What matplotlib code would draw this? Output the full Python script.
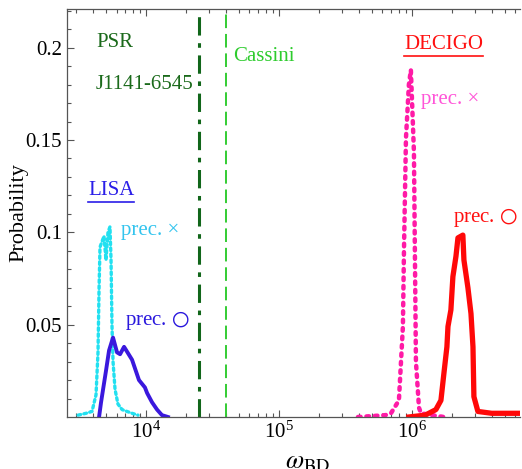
"""Posterior of the Brans-Dicke parameter for LISA and DECIGO."""

import matplotlib

matplotlib.use("Agg")
import matplotlib.pyplot as plt
import numpy as np
from matplotlib.lines import Line2D
from matplotlib.ticker import FixedLocator, LogLocator, NullFormatter

plt.rcParams["font.family"] = ["Liberation Serif", "DejaVu Sans"]
plt.rcParams["mathtext.fontset"] = "stix"

# LISA, precession x (cyan dotted)
lisa_x_log = [3.489, 3.549, 3.594, 3.624, 3.639, 3.647, 3.654, 3.669, 3.684, 3.699,
              3.714, 3.729, 3.737, 3.744, 3.752, 3.767, 3.789, 3.82, 3.857, 3.895, 3.94]
lisa_x_prob = [0.001, 0.002, 0.003, 0.012, 0.035, 0.070, 0.092, 0.095, 0.098, 0.085,
               0.100, 0.103, 0.085, 0.050, 0.030, 0.015, 0.007, 0.004, 0.003, 0.002, 0.001]

# LISA, precession o (blue solid)
lisa_o_log = [3.647, 3.662, 3.699, 3.722, 3.752, 3.782, 3.805, 3.835, 3.895, 3.947,
              3.992, 4.008, 4.045, 4.083, 4.12, 4.165]
lisa_o_prob = [0.0, 0.008, 0.025, 0.036, 0.043, 0.035, 0.034, 0.038, 0.031, 0.020,
               0.016, 0.013, 0.008, 0.004, 0.001, 0.0]

# DECIGO, precession x (magenta dotted)
decigo_x_log = [5.594, 5.70, 5.80, 5.842, 5.902, 5.932, 5.94, 5.955, 5.977, 5.992,
                6.015, 6.03, 6.053, 6.068, 6.15, 6.24]
decigo_x_prob = [0.0, 0.0005, 0.001, 0.002, 0.009, 0.049, 0.09, 0.151, 0.180, 0.188,
                 0.1435, 0.03, 0.005, 0.002, 0.001, 0.0]

# DECIGO, precession o (red solid)
decigo_o_log = [5.977, 6.10, 6.18, 6.218, 6.241, 6.263, 6.271, 6.293, 6.308, 6.331,
                6.346, 6.383, 6.391, 6.421, 6.444, 6.459, 6.466, 6.496, 6.60, 6.70, 6.797]
decigo_o_prob = [0.0, 0.001, 0.004, 0.009, 0.024, 0.038, 0.049, 0.058, 0.076, 0.087,
                 0.097, 0.0985, 0.085, 0.070, 0.056, 0.038, 0.011, 0.003, 0.002, 0.002, 0.002]

# existing bounds
omega_psr = 25000
omega_cassini = 40000


def underline(fig, text, color):
    fig.canvas.draw()
    bb = text.get_window_extent().transformed(fig.transFigure.inverted())
    fig.add_artist(Line2D([bb.x0, bb.x1], [bb.y0 - 0.004, bb.y0 - 0.004],
                          transform=fig.transFigure, color=color, lw=1.2))


fig = plt.figure(figsize=(5.22, 4.69), dpi=100)
ax = fig.add_axes([0.1284, 0.1109, 0.8676, 0.8701])

ax.plot(10 ** np.array(lisa_x_log), lisa_x_prob, color="#22e0f0", lw=2.4,
        ls=(0, (0.8, 1.0)), dash_capstyle="round")
ax.plot(10 ** np.array(lisa_o_log), lisa_o_prob, color="#3a18dd", lw=2.8)
ax.plot(10 ** np.array(decigo_x_log), decigo_x_prob, color="#ff1aa6", lw=3.2,
        ls=(0, (0.6, 1.3)), dash_capstyle="round")
ax.plot(10 ** np.array(decigo_o_log), decigo_o_prob, color="#ff0808", lw=3.8)

ax.axvline(omega_psr, ymax=0.985, color="#11661a", lw=2.2, ls=(0, (6, 2.5, 1.5, 2.5)))
ax.axvline(omega_cassini, ymax=0.99, color="#33cc33", lw=1.4, ls=(0, (7, 3)))

ax.set_xscale("log")
ax.set_xlim(10 ** 3.406, 10 ** 6.812)
ax.set_ylim(0, 0.221)

ax.xaxis.set_major_locator(FixedLocator([1e4, 1e5, 1e6]))
ax.xaxis.set_minor_locator(LogLocator(base=10, subs=np.arange(2, 10)))
ax.xaxis.set_minor_formatter(NullFormatter())
ax.set_yticks([0.05, 0.1, 0.15, 0.2])
ax.set_yticklabels(["0.05", "0.1", "0.15", "0.2"])
ax.set_yticks(np.arange(0.01, 0.221, 0.01), minor=True)
ax.tick_params(which="both", direction="in", top=True, right=False, labelsize=15,
               color="#555555", width=0.8)
ax.tick_params(which="major", length=5)
ax.tick_params(which="minor", length=3)
for side in ["left", "bottom", "top"]:
    ax.spines[side].set_color("#555555")
    ax.spines[side].set_linewidth(0.9)
ax.spines["right"].set_visible(False)

ax.set_ylabel("Probability", fontsize=16)
ax.yaxis.set_label_coords(-0.085, 0.5)
ax.set_xlabel(r"$\omega_{\rm BD}$", fontsize=19, labelpad=0)
ax.xaxis.set_label_coords(0.53, -0.085)

circ = r"$\bigcirc$"
ax.text(10 ** 3.624, 0.2026, "PSR", color="#1b6a1b", fontsize=15, va="center")
ax.text(10 ** 3.624, 0.180, "J1141-6545", color="#1b6a1b", fontsize=15, va="center")
ax.text(10 ** 4.654, 0.195, "Cassini", color="#2ecc2e", fontsize=15, va="center")
lisa = ax.text(10 ** 3.564, 0.1224, "LISA", color="#2a1ee8", fontsize=15, va="center")
ax.text(10 ** 3.812, 0.1008, "prec. ×", color="#33c4ee", fontsize=15, va="center")
ax.text(10 ** 3.842, 0.0525, "prec. " + circ, color="#2a18dd", fontsize=15, va="center")
decigo = ax.text(10 ** 5.94, 0.2015, "DECIGO", color="#ff1010", fontsize=15, va="center")
ax.text(10 ** 6.068, 0.172, "prec. ×", color="#ff55d8", fontsize=15, va="center")
ax.text(10 ** 6.308, 0.108, "prec. " + circ, color="#ff1010", fontsize=15, va="center")

underline(fig, lisa, "#2a1ee8")
underline(fig, decigo, "#ff1010")

fig.savefig("out.png", dpi=100)
